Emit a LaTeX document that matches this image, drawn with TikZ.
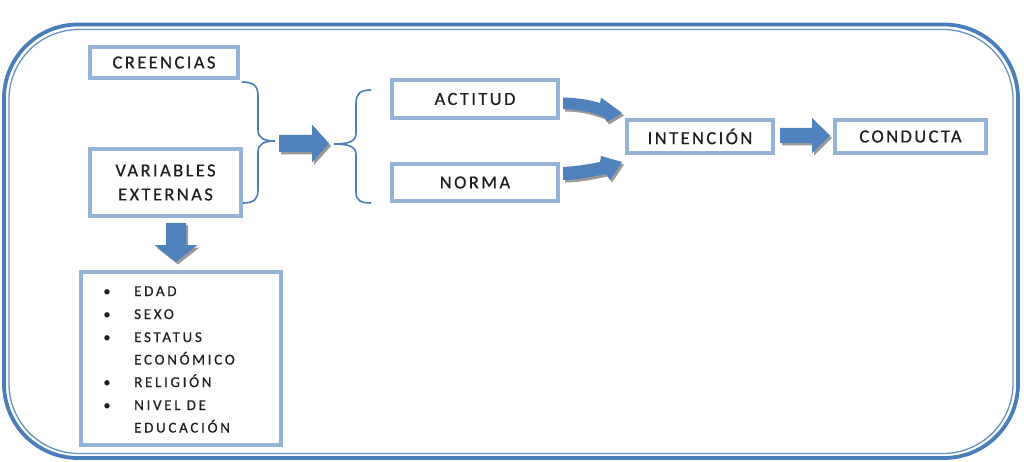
\documentclass[tikz,border=0pt]{standalone}
\usepackage{fontspec}
\setmainfont{Carlito}
\newfontfamily\mainf[LetterSpace=13,FakeBold=0.6]{Carlito}
\newfontfamily\listf[LetterSpace=18,FakeBold=0.6]{Carlito}
\usetikzlibrary{calc}
\definecolor{frameblue}{HTML}{4A7EBB}
\definecolor{boxblue}{HTML}{95B3D7}
\definecolor{arrowblue}{HTML}{4F81BD}
\definecolor{txt}{HTML}{1E1E1E}
\newcommand\hblock[4]{(0,-#3) -- (#1,-#3) -- (#1,-#4) -- (#2,0) -- (#1,#4) -- (#1,#3) -- (0,#3) -- cycle}
\begin{document}
\begin{tikzpicture}[x=1pt,y=-1pt,
  box/.style={draw=boxblue,line width=4pt,inner sep=0pt,text=txt,font=\mainf\fontsize{18.5}{24}\selectfont},
  blockarrow/.style={fill=arrowblue},
  shadowarrow/.style={fill=black!40},
  bracestyle/.style={draw=frameblue,line width=1.6pt},
  listitem/.style={anchor=base west,inner sep=0pt,text=txt,font=\listf\fontsize{15}{23}\selectfont},
  bulletitem/.style={anchor=base,inner sep=0pt,text=txt,font=\fontsize{15}{23}\selectfont}]
\useasboundingbox (0,0) rectangle (1024,462);
% frame
\draw[frameblue,line width=3.8pt,rounded corners=74pt] (4,24.5) rectangle (1018,458);
\draw[frameblue!85,line width=1.3pt,rounded corners=70pt] (9,29.5) rectangle (1013,453.5);
% boxes
\node[box,minimum width=148pt,minimum height=31pt] (cre) at (164,62.5) {CREENCIAS};
\node[box,minimum width=151pt,minimum height=67pt,align=center] (var) at (165.5,182.5) {VARIABLES\\EXTERNAS};
\node[box,minimum width=166pt,minimum height=38pt] (act) at (475,99) {ACTITUD};
\node[box,minimum width=166pt,minimum height=37pt] (nor) at (475,182.5) {NORMA};
\node[box,minimum width=146pt,minimum height=33pt] (int) at (700,136.5) {INTENCIÓN};
\node[box,minimum width=151pt,minimum height=33pt] (con) at (910.5,136.5) {CONDUCTA};
\node[box,minimum width=200pt,minimum height=173pt] (lst) at (181,358.5) {};
% list
\foreach \n/\t/\b/\yy in {l1/EDAD/1/296, l2/SEXO/1/319, l3/ESTATUS/1/342, l4/ECONÓMICO/0/364.5, l5/RELIGIÓN/1/387, l6/NIVEL DE/1/410, l7/EDUCACIÓN/0/432.5}{
  \node[listitem] (\n) at (134,\yy) {\t};
  \ifnum\b=1 \node[bulletitem] (b\n) at (107,\yy) {\textbullet}; \fi
}
% braces
\draw[bracestyle]
  (242,82) .. controls (254,82) and (258,86) .. (258,96) -- (258,130)
  .. controls (258,138) and (264,141) .. (275,141)
  .. controls (264,141) and (258,144) .. (258,152) -- (258,190)
  .. controls (258,199) and (254,203) .. (243,203);
\draw[bracestyle] (371,90) .. controls (360,90) and (356,94) .. (356,103) -- (356,133)
  .. controls (356,141) and (350,144) .. (334,144)
  .. controls (350,144) and (356,147) .. (356,155) -- (356,192)
  .. controls (356,200) and (360,203) .. (371,203);
% block arrows
\coordinate (a1) at (279,143.5);
\coordinate (a2) at (780,135.5);
\coordinate (a3) at (176,223);
\path[shadowarrow,shift={(a1)},xshift=2pt,yshift=-2.5pt] \hblock{33}{50}{8.5}{19};
\path[blockarrow,shift={(a1)}] \hblock{33}{50}{8.5}{19};
\path[shadowarrow,shift={(a2)},xshift=2pt,yshift=-2.5pt] \hblock{32}{50}{7.5}{17.5};
\path[blockarrow,shift={(a2)}] \hblock{32}{50}{7.5}{17.5};
\path[shadowarrow,shift={(a3)},xshift=2pt,yshift=-2.5pt,rotate=-90] \hblock{22}{39}{10}{21.5};
\path[blockarrow,shift={(a3)},rotate=-90] \hblock{22}{39}{10}{21.5};
% curved arrows
\begin{scope}[xshift=2pt,yshift=-2.5pt]
\fill[black!40] (563,97.5) .. controls (580,98) and (590,100) .. (600,103) -- (601,97.5) -- (622,113) -- (607,122) -- (604,117) .. controls (590,112) and (578,109) .. (563,109) -- cycle;
\fill[black!40] (563,167) .. controls (578,166) and (590,164) .. (600,162) -- (601,156) -- (622,162) -- (610,180) -- (606,174) .. controls (590,177) and (578,180) .. (563,180) -- cycle;
\end{scope}
\fill[arrowblue] (563,97.5) .. controls (580,98) and (590,100) .. (600,103) -- (601,97.5) -- (622,113) -- (607,122) -- (604,117) .. controls (590,112) and (578,109) .. (563,109) -- cycle;
\fill[arrowblue] (563,167) .. controls (578,166) and (590,164) .. (600,162) -- (601,156) -- (622,162) -- (610,180) -- (606,174) .. controls (590,177) and (578,180) .. (563,180) -- cycle;
\end{tikzpicture}
\end{document}
